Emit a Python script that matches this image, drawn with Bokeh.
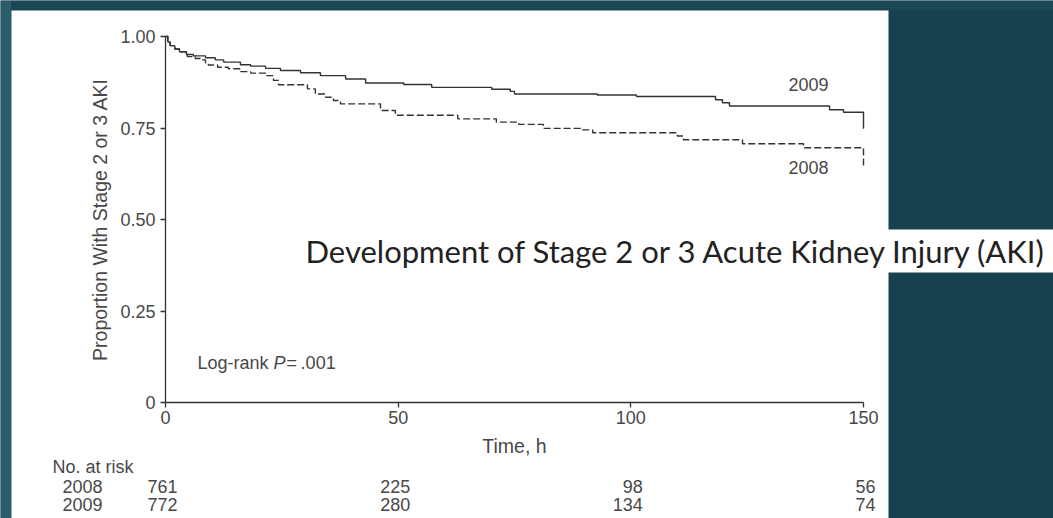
from bokeh.plotting import figure
from bokeh.models import Range1d, FixedTicker, ColumnDataSource
from bokeh.core.properties import value
from bokeh.embed import file_html
from bokeh.resources import INLINE

# ---- data ----
t2009 = [0, 0.5, 1, 2, 3, 4.5, 6, 8.6, 10.7, 12.5, 16.1, 18.3, 21.5, 24.7, 29.0,
         33.3, 38.7, 43.0, 51.2, 57.2, 70.1, 74.1, 75.0, 92.8, 101.2, 118.2, 119.7,
         121.2, 142.7, 145.7, 150]
s2009 = [1.0, 0.985, 0.975, 0.966, 0.958, 0.951, 0.947, 0.942, 0.936, 0.930, 0.923,
         0.919, 0.913, 0.907, 0.901, 0.893, 0.884, 0.873, 0.869, 0.861, 0.856, 0.850,
         0.843, 0.840, 0.836, 0.827, 0.819, 0.810, 0.800, 0.793, 0.748]
t2008 = [0, 0.5, 1, 2, 3, 4.7, 6.4, 7.5, 8.6, 9.2, 11.2, 13.5, 16.1, 18.3, 21.5,
         23.2, 24.3, 30.5, 32.2, 34.4, 36.1, 37.6, 46.2, 49.4, 62.8, 71.1, 75.9,
         81.2, 89.2, 91.8, 110.0, 111.3, 124.0, 137.1, 150]
s2008 = [1.0, 0.985, 0.975, 0.966, 0.958, 0.945, 0.940, 0.936, 0.928, 0.922, 0.916,
         0.912, 0.904, 0.900, 0.893, 0.880, 0.868, 0.857, 0.843, 0.834, 0.825, 0.816,
         0.798, 0.785, 0.775, 0.766, 0.760, 0.749, 0.745, 0.737, 0.728, 0.718, 0.707,
         0.696, 0.643]
x_ticks = [0, 50, 100, 150]
y_ticks = [0, 0.25, 0.5, 0.75, 1.0]
y_tick_labels = ["0", "0.25", "0.50", "0.75", "1.00"]
risk_times = [0, 50, 100, 150]
risk_2008 = [761, 225, 98, 56]
risk_2009 = [772, 280, 134, 74]
series_names = ["2009", "2008"]
title_text = "Development of Stage 2 or 3 Acute Kidney Injury (AKI)"

FONT = "Liberation Sans"
TXT = "#484848"
LINE = "#333333"
BG = "#17414f"

# ---- page geometry (pixels) ----
W, H = 1053, 518
X0_PX, X150_PX = 165, 863      # where t=0 and t=150 fall
Y0_PX, Y1_PX = 402, 36         # where 0 and 1.0 fall
PX_X = (X150_PX - X0_PX) / 150.0
PX_Y = (Y0_PX - Y1_PX) / 1.0

def tx(px):
    return (px - X0_PX) / PX_X

def ty(py):
    return (Y0_PX - py) / PX_Y

p = figure(width=W, height=H,
           x_range=Range1d(tx(0), tx(W)), y_range=Range1d(ty(H), ty(0)),
           output_backend="svg", toolbar_location=None,
           min_border_left=0, min_border_right=0, min_border_top=0, min_border_bottom=0)
p.border_fill_color = BG
p.background_fill_color = BG
p.outline_line_color = None
p.xgrid.visible = False
p.ygrid.visible = False

# page decoration: lighter left strip, top band, white panel, title band
p.quad(left=[tx(0)], right=[tx(11)], top=[ty(0)], bottom=[ty(H)], fill_color="#2b5c6b", line_color=None)
p.quad(left=[tx(11)], right=[tx(W)], top=[ty(0)], bottom=[ty(10)], fill_color="#1b4656", line_color=None)
p.quad(left=[tx(11)], right=[tx(888)], top=[ty(10)], bottom=[ty(H)], fill_color="white", line_color=None)
p.quad(left=[tx(886)], right=[tx(W)], top=[ty(229)], bottom=[ty(272)], fill_color="white", line_color=None)

# axes placed at the data origin
for ax in (p.xaxis[0], p.yaxis[0]):
    ax.fixed_location = 0
    ax.axis_line_color = LINE
    ax.axis_line_width = 1.3
    ax.major_tick_line_color = LINE
    ax.major_tick_line_width = 1.3
    ax.major_tick_in = 0
    ax.major_tick_out = 5
    ax.minor_tick_line_color = None
    ax.major_label_text_font = FONT
    ax.major_label_text_font_size = "18px"
    ax.major_label_text_color = TXT
    ax.axis_label_text_font = FONT
    ax.axis_label_text_font_size = "19.5px"
    ax.axis_label_text_font_style = "normal"
    ax.axis_label_text_color = TXT

p.xaxis.ticker = FixedTicker(ticks=x_ticks)
p.xaxis.bounds = (0, 150)
p.xaxis.axis_label = "Time, h"
p.xaxis.major_label_standoff = 3
p.xaxis.axis_label_standoff = 8

p.yaxis.ticker = FixedTicker(ticks=y_ticks)
p.yaxis.bounds = (0, 1)
p.yaxis.major_label_overrides = {float(v): s for v, s in zip(y_ticks, y_tick_labels)}
p.yaxis.axis_label = "Proportion With Stage 2 or 3 AKI"
p.yaxis.major_label_standoff = 5
p.yaxis.axis_label_standoff = 6

# survival curves
p.step(t2009, s2009, mode="after", line_color=LINE, line_width=1.4)
p.step(t2008, s2008, mode="after", line_color=LINE, line_width=1.4, line_dash="7 3")

p.text(x=[tx(808), tx(808)], y=[ty(84), ty(167)], text=series_names,
       text_font=value(FONT), text_font_size="18px", text_color=TXT,
       text_align="center", text_baseline="middle")

lr_x, lr_y = tx(197), ty(362)
p.text(x=[lr_x], y=[lr_y], text=["Log-rank"], text_font=value(FONT), text_font_size="18px",
       text_color=TXT, text_align="left", text_baseline="middle")
p.text(x=[lr_x], y=[lr_y], text=["P"], x_offset=76, text_font=value(FONT), text_font_size="18px",
       text_font_style="italic", text_color=TXT, text_align="left", text_baseline="middle")
p.text(x=[lr_x], y=[lr_y], text=["=\u2009.001"], x_offset=89, text_font=value(FONT),
       text_font_size="18px", text_color=TXT, text_align="left", text_baseline="middle")

# title
p.text(x=[tx(305)], y=[ty(250)], text=[title_text], text_font=value("Lato"),
       text_font_size="31px", text_color="#222222", text_align="left", text_baseline="middle")

# number at risk
p.text(x=[tx(52)], y=[ty(466)], text=["No. at risk"], text_font=value(FONT), text_font_size="18px",
       text_color=TXT, text_align="left", text_baseline="middle")
for lab, row, ypx in (("2008", risk_2008, 486), ("2009", risk_2009, 504)):
    p.text(x=[tx(62)], y=[ty(ypx)], text=[lab], text_font=value(FONT), text_font_size="18px",
           text_color=TXT, text_align="left", text_baseline="middle")
    src = ColumnDataSource(dict(x=risk_times, y=[ty(ypx)] * len(risk_times), t=[str(v) for v in row]))
    p.text(x="x", y="y", text="t", source=src, x_offset=12, text_font=value(FONT),
           text_font_size="18px", text_color=TXT, text_align="right", text_baseline="middle")

open("out.html", "w").write(file_html(p, INLINE))
